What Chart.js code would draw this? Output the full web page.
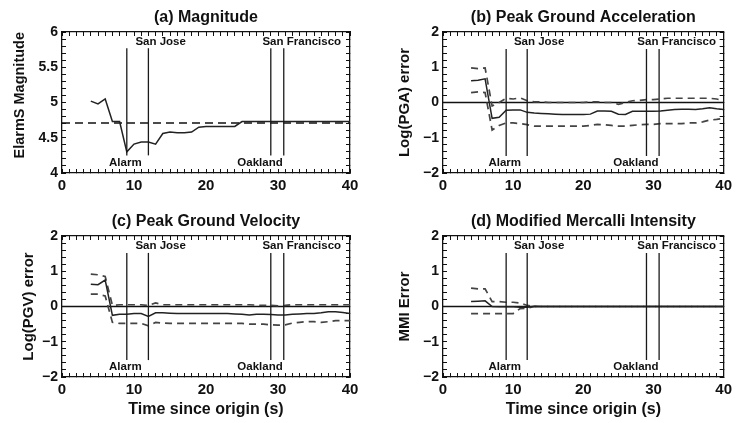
<!DOCTYPE html>
<html>
<head>
<meta charset="utf-8">
<script src="https://cdn.jsdelivr.net/npm/chart.js@4.4.1/dist/chart.umd.min.js"></script>
<style>
  body { margin: 0; background: #fff; }
  #wrap { position: relative; width: 740px; height: 423px; }
  canvas { position: absolute; }
</style>
</head>
<body>
<div id="wrap">
  <canvas id="ca" width="370" height="200" style="left:0;top:0"></canvas>
  <canvas id="cb" width="370" height="200" style="left:370px;top:0"></canvas>
  <canvas id="cc" width="370" height="223" style="left:0;top:200px"></canvas>
  <canvas id="cd" width="370" height="223" style="left:370px;top:200px"></canvas>
</div>
<script>
// time since origin (s)
const time = [4, 5, 6, 7, 8, 9, 10, 11, 12, 13, 14, 15, 16, 17, 18, 19, 20, 21, 22, 23, 24, 25,
  26, 27, 28, 29, 30, 31, 32, 33, 34, 35, 36, 37, 38, 39, 40];

// (a) magnitude
const magElarms = [5.02, 4.98, 5.05, 4.73, 4.73, 4.30, 4.41, 4.44, 4.44, 4.41, 4.56, 4.58, 4.57, 4.57, 4.58,
  4.65, 4.66, 4.66, 4.66, 4.66, 4.66, 4.73, 4.73, 4.73, 4.73, 4.73, 4.73, 4.73, 4.73, 4.73, 4.73,
  4.73, 4.73, 4.73, 4.73, 4.73, 4.73];
const magCatalog = 4.71;

// (b) PGA log error: median and spread
const pgaMid = [0.62, 0.63, 0.67, -0.45, -0.42, -0.22, -0.21, -0.21, -0.28, -0.30, -0.31, -0.32, -0.33, -0.34,
  -0.34, -0.34, -0.34, -0.33, -0.24, -0.24, -0.25, -0.33, -0.34, -0.25, -0.25, -0.25, -0.25, -0.24,
  -0.22, -0.20, -0.19, -0.19, -0.20, -0.18, -0.15, -0.18, -0.20];
const pgaHigh = [0.98, 0.96, 0.98, -0.10, 0.00, 0.12, 0.10, 0.13, 0.05, 0.02, 0.02, 0.00, 0.00, 0.00, 0.00,
  0.00, 0.00, 0.02, 0.02, 0.00, 0.00, -0.05, 0.00, 0.05, 0.06, 0.08, 0.08, 0.10, 0.12, 0.12, 0.12,
  0.12, 0.12, 0.12, 0.12, 0.10, 0.05];
const pgaLow = [0.28, 0.30, 0.28, -0.78, -0.65, -0.58, -0.58, -0.60, -0.63, -0.67, -0.67, -0.67, -0.67, -0.67,
  -0.67, -0.67, -0.67, -0.65, -0.62, -0.63, -0.65, -0.67, -0.67, -0.65, -0.63, -0.62, -0.62, -0.60,
  -0.60, -0.60, -0.60, -0.58, -0.58, -0.55, -0.50, -0.48, -0.45];

// (c) PGV log error
const pgvMid = [0.63, 0.62, 0.75, -0.25, -0.22, -0.22, -0.20, -0.20, -0.28, -0.18, -0.18, -0.19, -0.20, -0.20,
  -0.20, -0.20, -0.20, -0.20, -0.20, -0.20, -0.21, -0.22, -0.24, -0.22, -0.22, -0.23, -0.24, -0.24,
  -0.22, -0.21, -0.20, -0.20, -0.18, -0.15, -0.15, -0.17, -0.20];
const pgvHigh = [0.92, 0.90, 0.85, 0.03, 0.05, 0.05, 0.05, 0.05, 0.03, 0.10, 0.05, 0.05, 0.05, 0.05, 0.05,
  0.05, 0.05, 0.05, 0.05, 0.05, 0.05, 0.05, 0.05, 0.04, 0.03, 0.03, 0.02, 0.03, 0.05, 0.05, 0.05,
  0.05, 0.05, 0.05, 0.05, 0.05, 0.05];
const pgvLow = [0.35, 0.35, 0.30, -0.45, -0.48, -0.48, -0.48, -0.48, -0.55, -0.45, -0.47, -0.48, -0.48, -0.48,
  -0.48, -0.48, -0.48, -0.48, -0.48, -0.48, -0.48, -0.48, -0.50, -0.50, -0.50, -0.52, -0.53, -0.52,
  -0.47, -0.45, -0.43, -0.43, -0.45, -0.43, -0.40, -0.40, -0.40];

// (d) MMI error
const mmiMid = [0.14, 0.15, 0.16, 0.00, -0.01, -0.01, -0.01, -0.02, -0.02, 0.01, 0, 0, 0, 0, 0, 0, 0, 0, 0, 0,
  0, 0, 0, 0, 0, 0, 0, 0, 0, 0, 0, 0, 0, 0, 0, 0, 0];
const mmiHigh = [0.52, 0.50, 0.50, 0.14, 0.14, 0.12, 0.12, 0.10, 0.03, 0.00, 0, 0, 0, 0, 0, 0, 0, 0, 0, 0,
  0, 0, 0, 0, 0, 0, 0, 0, 0, 0, 0, 0, 0, 0, 0, 0, 0];
const mmiLow = [-0.20, -0.20, -0.20, -0.20, -0.20, -0.20, -0.20, -0.06, -0.05, 0.00, 0, 0, 0, 0, 0, 0, 0, 0, 0, 0,
  0, 0, 0, 0, 0, 0, 0, 0, 0, 0, 0, 0, 0, 0, 0, 0, 0];

// event markers
const markerTimes = [9, 12, 29, 30.8];
const markerNames = ['Alarm', 'San Jose', 'Oakland', 'San Francisco'];
const markerLabelAt = [8.8, 13.7, 27.5, 33.3];
const markerOnTop = [false, true, false, true];

const FONT = "'Liberation Sans', Arial, Helvetica, sans-serif";
const INK = '#111';
Chart.defaults.font.family = FONT;
Chart.defaults.font.weight = 'bold';
Chart.defaults.color = INK;

function pts(ys) {
  return time.map((t, i) => ({ x: t, y: ys[i] }));
}

// panel title + marker names
const decor = {
  id: 'decor',
  afterDraw(chart, args, opts) {
    const { ctx, chartArea: a } = chart;
    const x = chart.scales.x;
    ctx.save();
    ctx.fillStyle = INK;
    ctx.textAlign = 'center';
    ctx.textBaseline = 'middle';
    ctx.font = 'bold 16px ' + FONT;
    ctx.fillText(opts.title, (a.left + a.right) / 2, a.top - 14);
    ctx.font = 'bold 11.5px ' + FONT;
    markerNames.forEach((name, i) => {
      const px = x.getPixelForValue(markerLabelAt[i]);
      const py = markerOnTop[i] ? a.top + 10 : a.bottom - 10;
      ctx.fillText(name, px, py);
    });
    ctx.restore();
  }
};

function frameAxis(extra) {
  return Object.assign({
    type: 'linear',
    grid: { drawOnChartArea: false, drawTicks: true, tickLength: -4, tickColor: INK, tickWidth: 1 },
    border: { display: true, color: INK, width: 1.3 },
  }, extra);
}

function panel(id, p) {
  const left = p.col === 0;
  const yRange = p.yMin === 4 ? [4.25, 5.77] : [-1.52, 1.52];
  const datasets = [];

  markerTimes.forEach((m) => {
    datasets.push({
      data: [{ x: m, y: yRange[0] }, { x: m, y: yRange[1] }],
      borderColor: '#1a1a1a', borderWidth: 1.3,
    });
  });
  datasets.push({ data: pts(p.mid), borderColor: '#222', borderWidth: 1.5 });
  (p.bands || []).forEach((b) => {
    datasets.push({ data: pts(b), borderColor: '#444', borderWidth: 1.7, borderDash: [7, 5] });
  });
  datasets.push({
    data: [{ x: 0, y: p.ref }, { x: 40, y: p.ref }],
    borderColor: INK, borderWidth: p.refDash ? 1.6 : 1.3, borderDash: p.refDash || [],
  });

  const yMajor = p.yMin === 4 ? 0.5 : 1;
  return new Chart(document.getElementById(id), {
    type: 'line',
    data: { datasets },
    options: {
      responsive: false,
      animation: false,
      layout: { padding: { top: p.top, right: left ? 20 : 8, left: 0, bottom: 0 } },
      elements: { point: { radius: 0 }, line: { tension: 0 } },
      plugins: { legend: { display: false }, tooltip: { enabled: false }, decor: { title: p.title } },
      scales: {
        x: frameAxis({
          position: 'bottom', min: 0, max: 40,
          ticks: {
            stepSize: 1, autoSkip: false, maxRotation: 0, padding: 8, color: INK,
            font: { size: 15, weight: 'bold' },
            callback: (v) => (v % 10 === 0 ? String(v) : ''),
          },
          title: p.xTitle ? {
            display: true, text: p.xTitle, color: INK,
            font: { size: 16, weight: 'bold' }, padding: { top: 0, bottom: 4 },
          } : { display: false },
          afterFit: (s) => { s.height = p.xHeight; },
        }),
        x2: frameAxis({
          position: 'top', min: 0, max: 40,
          ticks: { stepSize: 1, autoSkip: false, display: false },
          afterFit: (s) => { s.height = 0; },
        }),
        y: frameAxis({
          position: 'left', min: p.yMin, max: p.yMax,
          ticks: {
            stepSize: p.yStep, autoSkip: false, padding: 8, color: INK,
            font: { size: 14, weight: 'bold' },
            callback: (v) => {
              const k = v / yMajor;
              if (Math.abs(k - Math.round(k)) > 1e-6) return '';
              const r = Math.round(v * 10) / 10;
              return r < 0 ? '\u2212' + Math.abs(r) : String(r);
            },
          },
          title: {
            display: true, text: p.yTitle, color: INK, align: p.yAlign || 'center',
            font: { size: p.yTitleSize || 15, weight: 'bold' }, padding: { top: p.yTitlePad, bottom: 0 },
          },
          afterFit: (s) => { s.width = left ? 62 : 73; },
        }),
        y2: frameAxis({
          position: 'right', min: p.yMin, max: p.yMax,
          ticks: { stepSize: p.yStep, autoSkip: false, display: false },
          afterFit: (s) => { s.width = 0; },
        }),
      },
    },
    plugins: [decor],
  });
}

panel('ca', {
  col: 0, top: 32, xHeight: 27, title: '(a) Magnitude',
  yMin: 4, yMax: 6, yStep: 0.1, yTitle: 'ElarmS Magnitude', yTitlePad: 11, yTitleSize: 14.5, yAlign: 'end',
  mid: magElarms, ref: magCatalog, refDash: [8, 5],
});
panel('cb', {
  col: 1, top: 32, xHeight: 27, title: '(b) Peak Ground Acceleration',
  yMin: -2, yMax: 2, yStep: 0.2, yTitle: 'Log(PGA) error', yTitlePad: 26,
  mid: pgaMid, bands: [pgaHigh, pgaLow], ref: 0,
});
panel('cc', {
  col: 0, top: 36, xHeight: 46, title: '(c) Peak Ground Velocity', xTitle: 'Time since origin (s)',
  yMin: -2, yMax: 2, yStep: 0.2, yTitle: 'Log(PGV) error', yTitlePad: 20,
  mid: pgvMid, bands: [pgvHigh, pgvLow], ref: 0,
});
panel('cd', {
  col: 1, top: 36, xHeight: 46, title: '(d) Modified Mercalli Intensity', xTitle: 'Time since origin (s)',
  yMin: -2, yMax: 2, yStep: 0.2, yTitle: 'MMI Error', yTitlePad: 26,
  mid: mmiMid, bands: [mmiHigh, mmiLow], ref: 0,
});
</script>
</body>
</html>
